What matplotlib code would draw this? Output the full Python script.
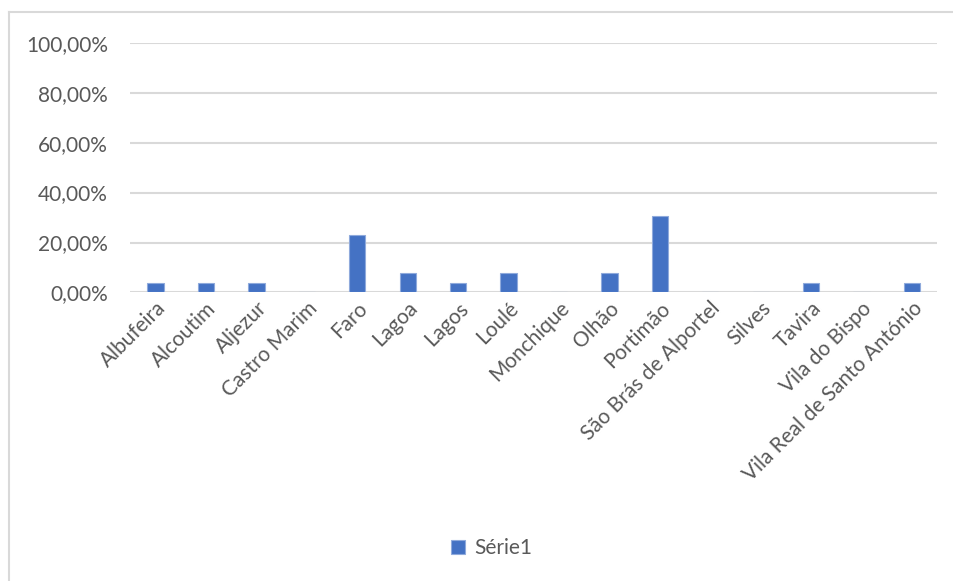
import matplotlib
matplotlib.use("Agg")
import matplotlib.pyplot as plt
from matplotlib.lines import Line2D
from matplotlib.ticker import FuncFormatter, MultipleLocator
import numpy as np

#----- dados ---------
concelhos = ["Albufeira", "Alcoutim", "Aljezur", "Castro Marim", "Faro", "Lagoa",
             "Lagos", "Loulé", "Monchique", "Olhão", "Portimão",
             "São Brás de Alportel", "Silves", "Tavira", "Vila do Bispo",
             "Vila Real de Santo António"]
contagem = [1, 1, 1, 0, 6, 2, 1, 2, 0, 2, 8, 0, 0, 1, 0, 1]
total = 26
percentagem = [c / total for c in contagem]
serie = "Série1"

azul = "#4472C4"
cinza_txt = "#595959"
cinza_grelha = "#D9D9D9"

plt.rcParams['font.family'] = ['Lato', 'DejaVu Sans']

fig = plt.figure(figsize=(9.54, 5.81), dpi=100)
ax = fig.add_axes([0.1366, 0.4966, 0.8458, 0.4299])

x = np.arange(len(concelhos))
ax.bar(x, percentagem, width=0.323, color=azul, edgecolor="#8FAADC",
       linewidth=0.8, label=serie, zorder=3)

ax.set_xlim(-0.5, len(concelhos) - 0.5)
ax.set_ylim(0, 1.0)
ax.yaxis.set_major_locator(MultipleLocator(0.2))
ax.yaxis.set_major_formatter(FuncFormatter(lambda v, p: f"{v*100:.2f}%".replace(".", ",")))
ax.grid(axis="y", color=cinza_grelha, linewidth=1.5, zorder=0)

for s in ax.spines.values():
    s.set_visible(False)
ax.tick_params(axis="both", length=0, colors=cinza_txt, labelsize=15)
ax.tick_params(axis="y", pad=16)
ax.tick_params(axis="x", pad=4)
ax.set_xticks(x)
ax.set_xticklabels(concelhos, rotation=45, ha="right", rotation_mode="anchor")

# moldura do grafico (so topo e esquerda visiveis)
fig.add_artist(Line2D([0.0094, 1.0], [0.979, 0.979], color=cinza_grelha, linewidth=1.5))
fig.add_artist(Line2D([0.0094, 0.0094], [0.0, 0.979], color=cinza_grelha, linewidth=1.5))

leg = fig.legend(loc="center", bbox_to_anchor=(0.515, 0.056), frameon=False,
                 fontsize=15, handlelength=0.7, handleheight=0.7, handletextpad=0.4)
for t in leg.get_texts():
    t.set_color(cinza_txt)

fig.savefig("out.png", dpi=100, facecolor="white")
